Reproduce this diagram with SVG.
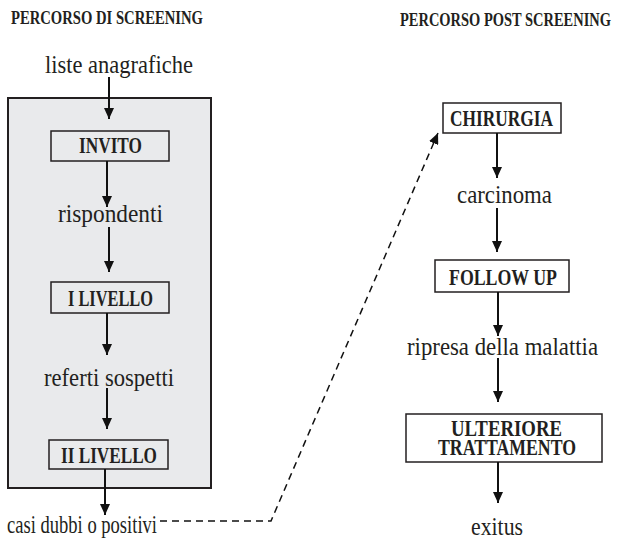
<svg xmlns="http://www.w3.org/2000/svg" width="617" height="540" viewBox="0 0 617 540">
<defs>
<marker id="ah" markerUnits="userSpaceOnUse" markerWidth="11" markerHeight="10" refX="11" refY="5" orient="auto" viewBox="0 0 11 10">
<path d="M0,0 L11,5 L0,10 z" fill="#111"/>
</marker>
<style>
.h{font-family:"Liberation Serif",serif;font-weight:bold;font-size:18px;fill:#231f20}
.b{font-family:"Liberation Serif",serif;font-weight:bold;font-size:24px;fill:#231f20}
.b2{font-family:"Liberation Serif",serif;font-weight:bold;font-size:23px;fill:#231f20}
.t{font-family:"Liberation Serif",serif;font-size:25px;fill:#231f20}
.box{stroke:#231f20;stroke-width:1.5}
.g{fill:#e9eaec}
.w{fill:#fff}
.c{stroke:#111;stroke-width:2;fill:none;marker-end:url(#ah)}
.d{stroke:#111;stroke-width:1.5;fill:none;stroke-dasharray:7,5;marker-end:url(#ah)}
</style>
</defs>
<rect width="617" height="540" fill="#fff"/>
<text class="h" x="11" y="24" textLength="192" lengthAdjust="spacingAndGlyphs">PERCORSO DI SCREENING</text>
<text class="h" x="400" y="26" textLength="211" lengthAdjust="spacingAndGlyphs">PERCORSO POST SCREENING</text>
<g id="screening-area"><rect x="8" y="98" width="203" height="390" class="g" stroke="#231f20" stroke-width="2"/></g>
<g id="liste"><text class="t" x="45" y="73" textLength="148" lengthAdjust="spacingAndGlyphs">liste anagrafiche</text></g>
<g id="invito"><rect x="51" y="131" width="118" height="30" class="box g"/><text class="b" x="79" y="153" textLength="63" lengthAdjust="spacingAndGlyphs">INVITO</text></g>
<g id="rispondenti"><text class="t" x="58" y="222" textLength="105" lengthAdjust="spacingAndGlyphs">rispondenti</text></g>
<g id="livello1"><rect x="51" y="282" width="118" height="31" class="box g"/><text class="b" x="68" y="306" textLength="85" lengthAdjust="spacingAndGlyphs">I LIVELLO</text></g>
<g id="referti"><text class="t" x="44" y="386" textLength="130" lengthAdjust="spacingAndGlyphs">referti sospetti</text></g>
<g id="livello2"><rect x="49" y="440" width="119" height="29" class="box g"/><text class="b" x="61" y="463" textLength="96" lengthAdjust="spacingAndGlyphs">II LIVELLO</text></g>
<g id="casi"><text class="t" x="7" y="533" textLength="150" lengthAdjust="spacingAndGlyphs">casi dubbi o positivi</text></g>
<g id="chirurgia"><rect x="443" y="103" width="118" height="30" class="box w"/><text class="b" x="450" y="126" textLength="103" lengthAdjust="spacingAndGlyphs">CHIRURGIA</text></g>
<g id="carcinoma"><text class="t" x="457" y="203" textLength="95" lengthAdjust="spacingAndGlyphs">carcinoma</text></g>
<g id="followup"><rect x="435" y="260" width="134" height="32" class="box w"/><text class="b" x="449" y="285" textLength="108" lengthAdjust="spacingAndGlyphs">FOLLOW UP</text></g>
<g id="ripresa"><text class="t" x="407" y="355" textLength="191" lengthAdjust="spacingAndGlyphs">ripresa della malattia</text></g>
<g id="ulteriore"><rect x="406" y="414" width="196" height="48" class="box w"/><text class="b2" x="451" y="436" textLength="111" lengthAdjust="spacingAndGlyphs">ULTERIORE</text><text class="b2" x="438" y="455" textLength="138" lengthAdjust="spacingAndGlyphs">TRATTAMENTO</text></g>
<g id="exitus"><text class="t" x="471" y="535" textLength="52" lengthAdjust="spacingAndGlyphs">exitus</text></g>
<g id="connectors">
<line class="c" x1="109" y1="77" x2="109" y2="119"/>
<line class="c" x1="107" y1="161" x2="107" y2="207"/>
<line class="c" x1="109" y1="227" x2="109" y2="272"/>
<line class="c" x1="107" y1="313" x2="107" y2="355"/>
<line class="c" x1="107" y1="388" x2="107" y2="429"/>
<line class="c" x1="105" y1="469" x2="105" y2="515"/>
<line class="c" x1="497" y1="133" x2="497" y2="178"/>
<line class="c" x1="497" y1="208" x2="497" y2="252"/>
<line class="c" x1="498" y1="292" x2="498" y2="336"/>
<line class="c" x1="498" y1="358" x2="498" y2="402"/>
<line class="c" x1="498" y1="462" x2="498" y2="503"/>
<polyline class="d" points="160,521 271,521 438,133"/>
</g>
</svg>
